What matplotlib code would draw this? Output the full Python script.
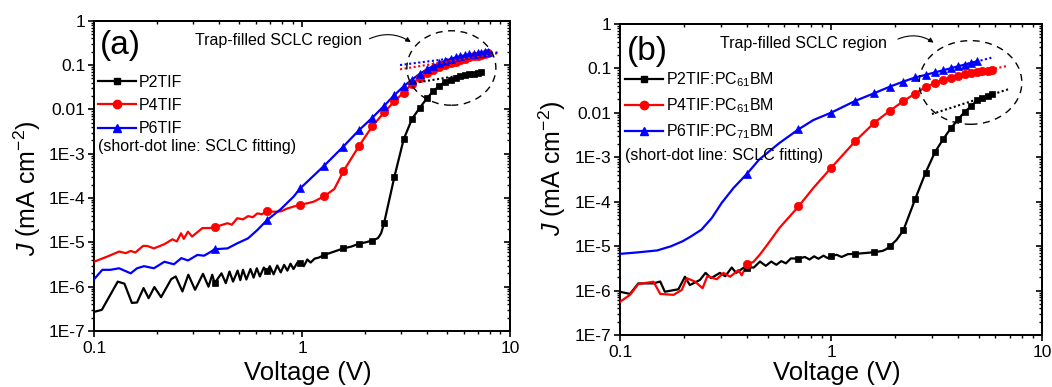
import numpy as np
import matplotlib
matplotlib.use('Agg')
import matplotlib.pyplot as plt
from matplotlib.patches import Ellipse
from matplotlib.lines import Line2D
from matplotlib.ticker import FixedLocator, FixedFormatter, LogLocator, NullFormatter

plt.rcParams['font.family'] = ['Liberation Sans', 'DejaVu Sans']
plt.rcParams['mathtext.fontset'] = 'custom'
plt.rcParams['mathtext.rm'] = 'Liberation Sans'
plt.rcParams['mathtext.it'] = 'Liberation Sans:italic'
plt.rcParams['mathtext.bf'] = 'Liberation Sans:bold'

# ---------------- axis ticks ----------------
x_ticks = [0.1, 1, 10]
x_tick_labels = ['0.1', '1', '10']
y_ticks = [1e-7, 1e-6, 1e-5, 1e-4, 1e-3, 1e-2, 1e-1, 1]
y_tick_labels = ['1E-7', '1E-6', '1E-5', '1E-4', '1E-3', '0.01', '0.1', '1']

# ---------------- panel (a) ----------------
a_labels = ['P2TIF', 'P4TIF', 'P6TIF']
a_mark_v = [0.38, 0.68, 0.98, 1.28, 1.58, 1.88, 2.18, 2.48, 2.78, 3.08, 3.38, 3.68, 3.98,
            4.28, 4.58, 4.88, 5.18, 5.48, 5.78, 6.08, 6.38, 6.68, 6.98, 7.28, 7.58, 7.88]
a_p2_mark_j = [1.2e-6, 2.2e-6, 3.5e-6, 5.2e-6, 7.3e-6, 9.3e-6, 1.1e-5, 2.7e-5, 3.0e-4, 2.1e-3,
               6.1e-3, 1.08e-2, 1.76e-2, 0.026, 0.034, 0.042, 0.047, 0.052, 0.056, 0.059,
               0.062, 0.064, 0.066, 0.068]
a_p4_mark_j = [2.2e-5, 5.0e-5, 7.1e-5, 1.1e-4, 4.0e-4, 1.5e-3, 4.2e-3, 8.5e-3, 0.0152, 0.024,
               0.038, 0.052, 0.066, 0.078, 0.09, 0.10, 0.11, 0.12, 0.13, 0.14, 0.148, 0.156,
               0.163, 0.17, 0.177, 0.184]
a_p6_mark_j = [7.0e-6, 3.2e-5, 1.65e-4, 5.4e-4, 1.45e-3, 3.4e-3, 6.5e-3, 0.012, 0.021, 0.033,
               0.047, 0.063, 0.08, 0.095, 0.11, 0.124, 0.137, 0.148, 0.158, 0.166, 0.173,
               0.179, 0.185, 0.19, 0.195, 0.2]

a_p2_line_v = [0.100, 0.109, 0.130, 0.140, 0.152, 0.161, 0.173, 0.183, 0.195, 0.210,
               0.235, 0.247, 0.266, 0.284, 0.306, 0.334, 0.355, 0.370, 0.41, 0.43,
               0.448, 0.466, 0.49, 0.505, 0.52, 0.54, 0.565, 0.585, 0.606, 0.627,
               0.655, 0.70, 0.73, 0.76, 0.79, 0.82, 0.85, 0.88, 0.91, 0.95,
               1.02, 1.06, 1.10, 1.15, 1.20, 1.40, 1.72, 2.02, 2.32, 2.40]
a_p2_line_j = [2.7e-7, 3.0e-7, 1.3e-6, 1.17e-6, 4.3e-7, 4.4e-7, 9.3e-7, 5.5e-7, 9.8e-7, 5.8e-7,
               1.48e-6, 1.7e-6, 7.8e-7, 1.86e-6, 8.5e-7, 1.95e-6, 1.0e-6, 1.86e-6, 2.0e-6, 1.2e-6,
               2.2e-6, 1.3e-6, 2.3e-6, 1.4e-6, 2.4e-6, 1.45e-6, 2.5e-6, 1.6e-6, 2.6e-6, 1.7e-6,
               2.7e-6, 2.9e-6, 1.9e-6, 3.0e-6, 2.1e-6, 3.1e-6, 2.3e-6, 3.3e-6, 2.5e-6, 3.5e-6,
               2.9e-6, 4.1e-6, 3.5e-6, 4.3e-6, 4.5e-6, 6.0e-6, 8.0e-6, 1.0e-5, 1.25e-5, 1.6e-5]
a_p4_line_v = [0.100, 0.116, 0.132, 0.142, 0.150, 0.158, 0.172, 0.180, 0.194, 0.218,
               0.238, 0.250, 0.262, 0.270, 0.283, 0.296, 0.332, 0.360, 0.438, 0.460,
               0.488, 0.520, 0.550, 0.580, 0.610, 0.640, 0.740, 0.790, 0.850, 0.910,
               1.06, 1.14, 1.43]
a_p4_line_j = [3.65e-6, 4.8e-6, 6.2e-6, 5.7e-6, 6.4e-6, 5.9e-6, 8.3e-6, 8.3e-6, 7.3e-6, 9.1e-6,
               1.17e-5, 1.05e-5, 1.6e-5, 1.2e-5, 1.74e-5, 1.35e-5, 2.1e-5, 2.1e-5, 2.7e-5, 2.5e-5,
               3.5e-5, 3.3e-5, 3.9e-5, 3.7e-5, 4.5e-5, 4.3e-5, 4.9e-5, 5.0e-5, 5.8e-5, 6.4e-5,
               7.6e-5, 8.3e-5, 1.6e-4]
a_p6_line_v = [0.100, 0.1096, 0.120, 0.132, 0.150, 0.161, 0.174, 0.194, 0.218, 0.242,
               0.263, 0.283, 0.314, 0.338, 0.364, 0.438, 0.488, 0.550, 0.610, 0.790, 0.910]
a_p6_line_j = [1.47e-6, 2.4e-6, 2.4e-6, 2.6e-6, 2.0e-6, 2.6e-6, 2.9e-6, 2.6e-6, 3.65e-6, 3.2e-6,
               4.4e-6, 3.9e-6, 5.2e-6, 5.0e-6, 6.1e-6, 7.3e-6, 9.5e-6, 1.23e-5, 1.9e-5, 5.6e-5,
               1.07e-4]

a_p2_fit_v = [3.3, 7.6]
a_p2_fit_j = [0.038, 0.072]
a_p4_fit_v = [2.96, 8.8]
a_p4_fit_j = [0.08, 0.185]
a_p6_fit_v = [2.96, 8.8]
a_p6_fit_j = [0.10, 0.194]

# ---------------- panel (b) ----------------
b_labels = ['P2TIF:PC$_{61}$BM', 'P4TIF:PC$_{61}$BM', 'P6TIF:PC$_{71}$BM']
b_mark_v = [0.4, 0.7, 1.0, 1.3, 1.6, 1.9, 2.2, 2.5, 2.8, 3.1, 3.4, 3.7, 4.0, 4.3, 4.6, 4.9,
            5.2, 5.5, 5.8]
b_p2_mark_j = [3.3e-6, 5.2e-6, 5.9e-6, 6.7e-6, 7.3e-6, 1.0e-5, 2.3e-5, 1.15e-4, 4.5e-4, 1.3e-3,
               2.6e-3, 4.6e-3, 7.2e-3, 0.0107, 0.014, 0.019, 0.0215, 0.0235, 0.026]
b_p4_mark_j = [4.0e-6, 7.8e-5, 5.8e-4, 2.3e-3, 6.0e-3, 0.0112, 0.0185, 0.0272, 0.038, 0.047,
               0.055, 0.062, 0.068, 0.073, 0.078, 0.082, 0.086, 0.089, 0.092]
b_p6_mark_j = [4.3e-4, 4.25e-3, 0.0101, 0.0186, 0.0277, 0.039, 0.0507, 0.0625, 0.0715, 0.0815,
               0.091, 0.1015, 0.112, 0.122, 0.133, 0.144]

b_p2_line_v = [0.100, 0.1115, 0.122, 0.144, 0.155, 0.163, 0.189, 0.203, 0.214, 0.239,
               0.254, 0.270, 0.297, 0.315, 0.338, 0.355, 0.386, 0.43, 0.46, 0.49,
               0.52, 0.55, 0.58, 0.61, 0.645, 0.75, 0.79, 0.83, 0.87, 0.92,
               0.96, 1.06, 1.12, 1.20, 1.45, 1.75, 1.82, 2.04]
b_p2_line_j = [9.4e-7, 8.4e-7, 1.45e-6, 1.45e-6, 1.6e-6, 9.4e-7, 1.07e-6, 2.05e-6, 1.33e-6, 1.73e-6,
               2.5e-6, 1.9e-6, 2.5e-6, 2.1e-6, 3.3e-6, 2.5e-6, 3.3e-6, 3.3e-6, 4.5e-6, 3.6e-6,
               4.5e-6, 3.8e-6, 4.6e-6, 4.1e-6, 5.3e-6, 5.7e-6, 5.0e-6, 5.9e-6, 5.2e-6, 6.1e-6,
               5.4e-6, 6.4e-6, 5.7e-6, 6.6e-6, 7.0e-6, 7.8e-6, 8.5e-6, 1.38e-5]
b_p4_line_v = [0.100, 0.1115, 0.122, 0.144, 0.155, 0.179, 0.196, 0.207, 0.226, 0.246,
               0.259, 0.287, 0.309, 0.332, 0.364, 0.377, 0.428, 0.46, 0.50, 0.57, 0.824]
b_p4_line_j = [5.6e-7, 8.0e-7, 1.4e-6, 1.58e-6, 8.4e-7, 8.0e-7, 1.03e-6, 1.9e-6, 1.6e-6, 1.13e-6,
               2.1e-6, 1.8e-6, 2.5e-6, 2.05e-6, 2.9e-6, 2.2e-6, 4.4e-6, 6.5e-6, 1.1e-5, 2.6e-5,
               2.05e-4]
b_p6_line_v = [0.100, 0.120, 0.150, 0.174, 0.198, 0.217, 0.243, 0.272, 0.303, 0.345,
               0.456, 0.569, 0.824]
b_p6_line_j = [6.7e-6, 7.2e-6, 8.0e-6, 9.9e-6, 1.29e-5, 1.66e-5, 2.35e-5, 4.3e-5, 9.4e-5, 2.05e-4,
               8.9e-4, 2.1e-3, 6.9e-3]

b_p2_fit_v = [3.0, 6.9]
b_p2_fit_j = [0.0094, 0.034]
b_p4_fit_v = [4.9, 6.9]
b_p4_fit_j = [0.082, 0.115]
b_p6_fit_v = [4.0, 5.9]
b_p6_fit_j = [0.112, 0.18]

colors = ['black', '#ff0000', '#0000ff']
markers = ['s', 'o', '^']
msizes = [4.8, 6.0, 6.4]
LW = 1.6
FS_TICK = 12.5
FS_LEG = 11.5


def draw_series(ax, lv, lj, mv, mj, color, marker, ms):
    mv = list(mv)[:len(mj)]
    v = np.array(list(lv) + mv)
    j = np.array(list(lj) + list(mj))
    order = np.argsort(v)
    ax.plot(v[order], j[order], color=color, lw=LW, zorder=3)
    ax.plot(mv, mj, linestyle='none', marker=marker, color=color, ms=ms,
            markeredgewidth=0.5, zorder=4)


def draw_fit(ax, fv, fj, color):
    ax.plot(fv, fj, color=color, lw=1.5, linestyle=(0, (1, 1.2)), zorder=5)


def setup(ax):
    ax.set_xscale('log')
    ax.set_yscale('log')
    ax.set_xlim(0.1, 10)
    ax.set_ylim(1e-7, 1)
    ax.xaxis.set_major_locator(FixedLocator(x_ticks))
    ax.xaxis.set_major_formatter(FixedFormatter(x_tick_labels))
    ax.xaxis.set_minor_locator(LogLocator(base=10, subs=np.arange(2, 10), numticks=20))
    ax.xaxis.set_minor_formatter(NullFormatter())
    ax.yaxis.set_major_locator(FixedLocator(y_ticks))
    ax.yaxis.set_major_formatter(FixedFormatter(y_tick_labels))
    ax.yaxis.set_minor_locator(LogLocator(base=10, subs=np.arange(2, 10), numticks=20))
    ax.yaxis.set_minor_formatter(NullFormatter())
    ax.tick_params(which='major', direction='out', length=4.5, width=1.2,
                   labelsize=FS_TICK, colors='black')
    ax.tick_params(axis='y', which='major', pad=1.5)
    ax.tick_params(axis='x', which='major', pad=2.5)
    ax.tick_params(which='minor', direction='out', length=2.5, width=1.0)
    for s in ax.spines.values():
        s.set_linewidth(1.4)
    sx = ax.secondary_xaxis('top')
    sx.xaxis.set_major_locator(FixedLocator(x_ticks))
    sx.xaxis.set_minor_locator(LogLocator(base=10, subs=np.arange(2, 10), numticks=20))
    sx.xaxis.set_major_formatter(NullFormatter())
    sx.xaxis.set_minor_formatter(NullFormatter())
    sx.tick_params(which='major', direction='in', length=4.5, width=1.2)
    sx.tick_params(which='minor', direction='in', length=2.5, width=1.0)
    sx.spines['top'].set_linewidth(1.4)
    sy = ax.secondary_yaxis('right')
    sy.yaxis.set_major_locator(FixedLocator(y_ticks))
    sy.yaxis.set_minor_locator(LogLocator(base=10, subs=np.arange(2, 10), numticks=20))
    sy.yaxis.set_major_formatter(NullFormatter())
    sy.yaxis.set_minor_formatter(NullFormatter())
    sy.tick_params(which='major', direction='in', length=4.5, width=1.2)
    sy.tick_params(which='minor', direction='in', length=2.5, width=1.0)
    sy.spines['right'].set_linewidth(1.4)


fig = plt.figure(figsize=(10.52, 3.87), dpi=100)
ax_a = fig.add_axes([0.0894, 0.1447, 0.3954, 0.8018])
ax_b = fig.add_axes([0.5894, 0.1344, 0.4014, 0.8036])

for ax in (ax_a, ax_b):
    setup(ax)

# panel (a) data
a_sets = [(a_p2_line_v, a_p2_line_j, a_p2_mark_j, a_p2_fit_v, a_p2_fit_j),
          (a_p4_line_v, a_p4_line_j, a_p4_mark_j, a_p4_fit_v, a_p4_fit_j),
          (a_p6_line_v, a_p6_line_j, a_p6_mark_j, a_p6_fit_v, a_p6_fit_j)]
for (lv, lj, mj, fv, fj), c, m, ms in zip(a_sets, colors, markers, msizes):
    draw_series(ax_a, lv, lj, a_mark_v, mj, c, m, ms)
    draw_fit(ax_a, fv, fj, c)

b_sets = [(b_p2_line_v, b_p2_line_j, b_p2_mark_j, b_p2_fit_v, b_p2_fit_j),
          (b_p4_line_v, b_p4_line_j, b_p4_mark_j, b_p4_fit_v, b_p4_fit_j),
          (b_p6_line_v, b_p6_line_j, b_p6_mark_j, b_p6_fit_v, b_p6_fit_j)]
for (lv, lj, mj, fv, fj), c, m, ms in zip(b_sets, colors, markers, msizes):
    draw_series(ax_b, lv, lj, b_mark_v, mj, c, m, ms)
    draw_fit(ax_b, fv, fj, c)

# legends
def make_legend(ax, labels, anchor, spacing):
    handles = [Line2D([], [], color=c, lw=LW, marker=m, ms=ms)
               for c, m, ms in zip(colors, markers, msizes)]
    ax.legend(handles, labels, loc='upper left', bbox_to_anchor=anchor, frameon=False,
              fontsize=FS_LEG, handlelength=2.35, handletextpad=0.22, labelspacing=spacing,
              borderpad=0, borderaxespad=0, numpoints=1)

make_legend(ax_a, a_labels, (0.0096, 0.826), 0.52)
make_legend(ax_b, b_labels, (0.0121, 0.850), 0.45)

ax_a.text(0.0096, 0.5955, '(short-dot line: SCLC fitting)', transform=ax_a.transAxes,
          fontsize=FS_LEG, va='center', ha='left')
ax_b.text(0.0121, 0.5775, '(short-dot line: SCLC fitting)', transform=ax_b.transAxes,
          fontsize=FS_LEG, va='center', ha='left')

ax_a.text(0.014, 0.919, '(a)', transform=ax_a.transAxes, fontsize=24, va='center', ha='left')
ax_b.text(0.016, 0.912, '(b)', transform=ax_b.transAxes, fontsize=24, va='center', ha='left')

# trap-filled annotations
ax_a.text(0.2425, 0.935, 'Trap-filled SCLC region', transform=ax_a.transAxes,
          fontsize=FS_LEG, va='center', ha='left')
ax_a.annotate('', xy=(0.767, 0.926), xytext=(0.656, 0.938), xycoords='axes fraction',
              arrowprops=dict(arrowstyle='-|>', color='black', lw=0.8,
                              connectionstyle='arc3,rad=-0.3', mutation_scale=7))
ax_a.add_patch(Ellipse((0.859, 0.8476), 0.214, 0.240, transform=ax_a.transAxes,
                       fill=False, ls=(0, (5, 4)), lw=1.0, color='black', zorder=6))

ax_b.text(0.2368, 0.9376, 'Trap-filled SCLC region', transform=ax_b.transAxes,
          fontsize=FS_LEG, va='center', ha='left')
ax_b.annotate('', xy=(0.748, 0.935), xytext=(0.652, 0.948), xycoords='axes fraction',
              arrowprops=dict(arrowstyle='-|>', color='black', lw=0.8,
                              connectionstyle='arc3,rad=-0.3', mutation_scale=7))
ax_b.add_patch(Ellipse((0.830, 0.812), 0.243, 0.269, transform=ax_b.transAxes,
                       fill=False, ls=(0, (5, 4)), lw=1.0, color='black', zorder=6))

# axis labels
ylab = r'$J$ (mA cm$^{-2}$)'
fig.text(27 / 1052, 0.514, ylab, rotation=90, fontsize=18, ha='center', va='center')
fig.text(552 / 1052, 0.566, ylab, rotation=90, fontsize=18, ha='center', va='center')
fig.text(0.2924, 0.036, 'Voltage (V)', fontsize=18.5, ha='center', va='center')
fig.text(0.7957, 0.036, 'Voltage (V)', fontsize=18.5, ha='center', va='center')

fig.savefig('out.png', dpi=100)
